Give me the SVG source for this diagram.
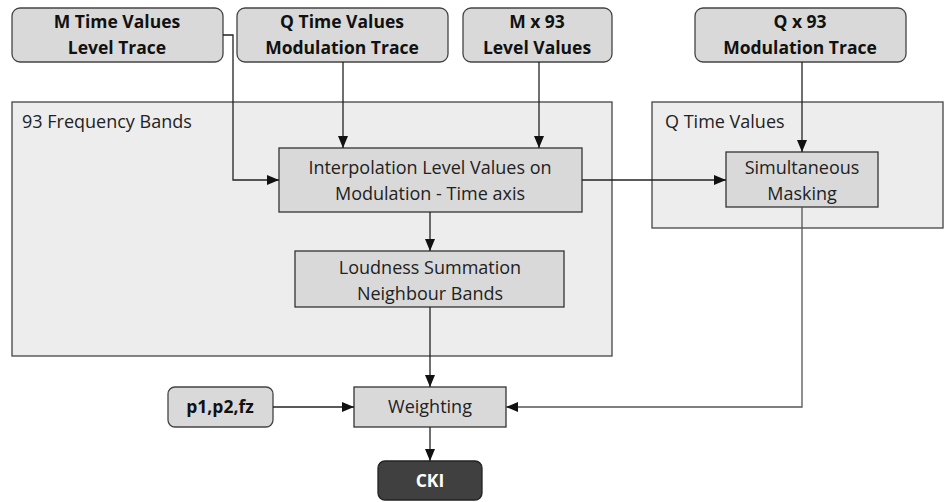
<svg xmlns="http://www.w3.org/2000/svg" width="945" height="502" viewBox="0 0 945 502">
<defs>
<marker id="arr" viewBox="0 0 10 10" refX="10" refY="5" markerWidth="12" markerHeight="10" markerUnits="userSpaceOnUse" orient="auto" preserveAspectRatio="none">
<path d="M0,0 L10,5 L0,10 z" fill="#111"/>
</marker>
<style>
.cont{fill:#ededed;stroke:#444;stroke-width:1.3}
.in{fill:#d9d9d9;stroke:#444;stroke-width:1.3}
.box{fill:#d9d9d9;stroke:#333;stroke-width:1.3}
.dark{fill:#404040;stroke:#222;stroke-width:1.3}
.t{font-family:"Open Sans",sans-serif;font-size:18px;fill:#222;text-anchor:middle}
.b{font-family:"Open Sans",sans-serif;font-size:17.5px;font-weight:bold;fill:#111;text-anchor:middle}
.lbl{font-family:"Open Sans",sans-serif;font-size:18px;fill:#222}
.c{fill:none;stroke:#222;stroke-width:1.3;marker-end:url(#arr)}
</style>
</defs>
<rect width="945" height="502" fill="#fff"/>
<g id="freq-bands">
<rect class="cont" x="12" y="102" width="600" height="254"/>
<text class="lbl" x="22" y="128">93 Frequency Bands</text>
</g>
<g id="q-time-container">
<rect class="cont" x="652" y="102" width="291" height="126"/>
<text class="lbl" x="665" y="128">Q Time Values</text>
</g>
<g id="n-m-time">
<rect class="in" x="12" y="8" width="211" height="54" rx="8"/>
<text class="b" x="117" y="28">M Time Values</text>
<text class="b" x="117" y="54">Level Trace</text>
</g>
<g id="n-q-time">
<rect class="in" x="237" y="8" width="211" height="54" rx="8"/>
<text class="b" x="342" y="28">Q Time Values</text>
<text class="b" x="342" y="54">Modulation Trace</text>
</g>
<g id="n-m93">
<rect class="in" x="463" y="8" width="149" height="54" rx="8"/>
<text class="b" x="537" y="28">M x 93</text>
<text class="b" x="537" y="54">Level Values</text>
</g>
<g id="n-q93">
<rect class="in" x="695" y="8" width="211" height="54" rx="8"/>
<text class="b" x="800" y="28">Q x 93</text>
<text class="b" x="800" y="54">Modulation Trace</text>
</g>
<g id="n-interp">
<rect class="box" x="279" y="148" width="303" height="64"/>
<text class="t" x="430" y="174">Interpolation Level Values on</text>
<text class="t" x="430" y="200">Modulation - Time axis</text>
</g>
<g id="n-masking">
<rect class="box" x="726" y="152" width="152" height="55"/>
<text class="t" x="802" y="174">Simultaneous</text>
<text class="t" x="802" y="200">Masking</text>
</g>
<g id="n-loudness">
<rect class="box" x="295" y="251" width="269" height="56"/>
<text class="t" x="430" y="274">Loudness Summation</text>
<text class="t" x="430" y="300">Neighbour Bands</text>
</g>
<g id="n-weighting">
<rect class="box" x="354" y="387" width="152" height="40"/>
<text class="t" x="430" y="413">Weighting</text>
</g>
<g id="n-p">
<rect class="in" x="168" y="387" width="105" height="40" rx="7"/>
<text class="b" x="220" y="413">p1,p2,fz</text>
</g>
<g id="n-cki">
<rect class="dark" x="378" y="461" width="104" height="39" rx="7"/>
<text class="b" x="430" y="487" style="fill:#fff">CKI</text>
</g>
<g id="connectors">
<path class="c" d="M223,35 H233 V180 H279"/>
<path class="c" d="M343,62 V148"/>
<path class="c" d="M539,62 V148"/>
<path class="c" d="M802,62 V152"/>
<path class="c" d="M582,180 H726"/>
<path class="c" d="M430,212 V251"/>
<path class="c" d="M430,307 V387"/>
<path class="c" d="M802,207 V407 H506" style="stroke:#555"/>
<path class="c" d="M273,407 H354"/>
<path class="c" d="M430,427 V461"/>
</g>
</svg>
